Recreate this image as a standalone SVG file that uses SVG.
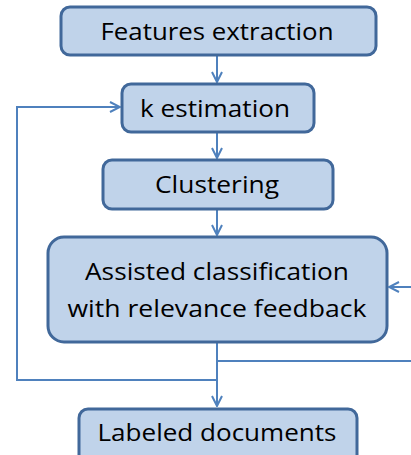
<svg xmlns="http://www.w3.org/2000/svg" width="411" height="455" viewBox="0 0 411 455">
<style>
.box{fill:#C0D3EA;stroke:#41689A;stroke-width:3}
.t{font-family:"Open Sans","Noto Sans",sans-serif;font-size:23px;fill:#000;text-anchor:middle}
.c{fill:none;stroke:#4F81BD;stroke-width:2}
</style>
<defs>
<marker id="a" viewBox="0 0 12 12" refX="11" refY="6" markerWidth="12" markerHeight="12" markerUnits="userSpaceOnUse" orient="auto">
<path d="M1,1 L11,6 L1,11" fill="none" stroke="#4F81BD" stroke-width="2"/>
</marker>
</defs>
<rect width="411" height="455" fill="#fff"/>
<g id="connectors">
<path class="c" d="M217,55 V82" marker-end="url(#a)"/>
<path class="c" d="M217,132 V158" marker-end="url(#a)"/>
<path class="c" d="M217,209 V235" marker-end="url(#a)"/>
<path class="c" d="M411,287 H389" marker-end="url(#a)"/>
<path class="c" d="M217,342 V406" marker-end="url(#a)"/>
<path class="c" d="M217,361 H411"/>
<path class="c" d="M217,380 H17 V107 H120" marker-end="url(#a)"/>
</g>
<g id="features">
<rect class="box" x="61" y="7" width="315" height="48" rx="9"/>
<text class="t" x="217" y="40" textLength="233" lengthAdjust="spacingAndGlyphs">Features extraction</text>
</g>
<g id="kestimation">
<rect class="box" x="122" y="84" width="192" height="48" rx="9"/>
<text class="t" x="215" y="117" textLength="150" lengthAdjust="spacingAndGlyphs">k estimation</text>
</g>
<g id="clustering">
<rect class="box" x="103" y="160" width="230" height="49" rx="9"/>
<text class="t" x="217" y="193" textLength="124" lengthAdjust="spacingAndGlyphs">Clustering</text>
</g>
<g id="classification">
<rect class="box" x="48" y="237" width="339" height="105" rx="16"/>
<text class="t" x="217" y="280" textLength="264" lengthAdjust="spacingAndGlyphs">Assisted classification</text>
<text class="t" x="217" y="317" textLength="299" lengthAdjust="spacingAndGlyphs">with relevance feedback</text>
</g>
<g id="labeled">
<rect class="box" x="79" y="409" width="278" height="55" rx="9"/>
<text class="t" x="217" y="441" textLength="239" lengthAdjust="spacingAndGlyphs">Labeled documents</text>
</g>
</svg>
